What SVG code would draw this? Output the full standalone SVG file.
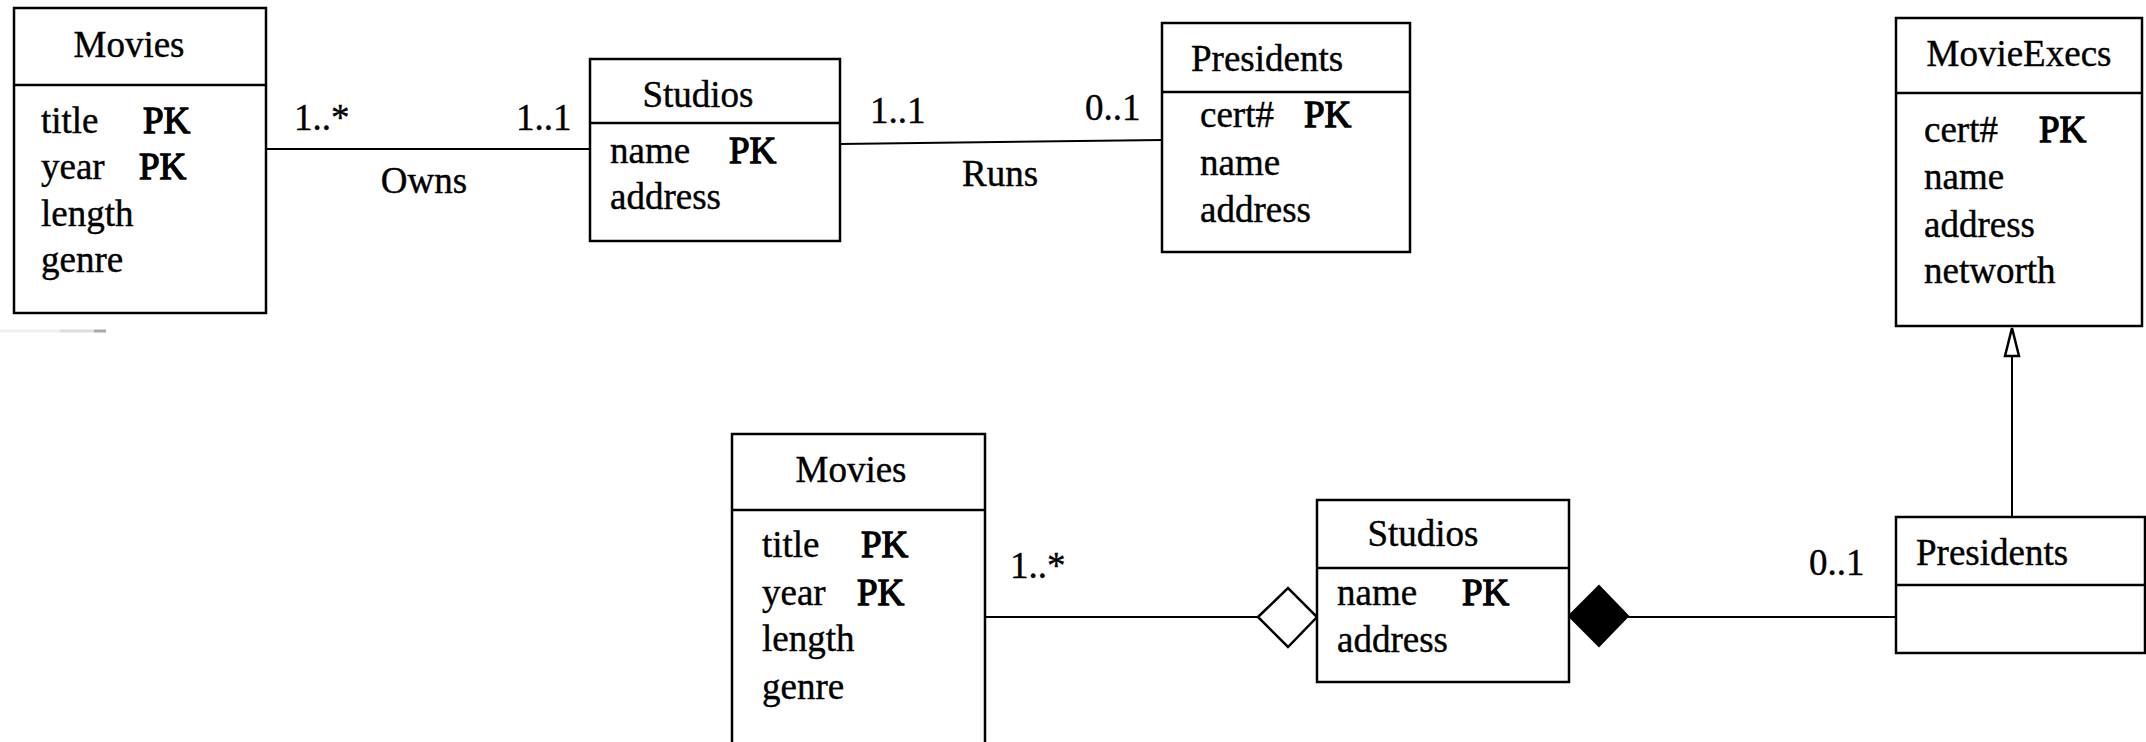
<svg xmlns="http://www.w3.org/2000/svg" width="2146" height="742" viewBox="0 0 2146 742">
<style>
.box{fill:#fff;stroke:#000;stroke-width:2.5}
.sep{stroke:#000;stroke-width:2.5}
.ln{stroke:#000;stroke-width:2;fill:none}
text{font-family:"Liberation Serif","Times New Roman",serif;font-size:37px;fill:#000;stroke:#000;stroke-width:0.4}
.c{text-anchor:middle}
.pk{stroke-width:1.3}
</style>
<rect width="2146" height="742" fill="#fff"/>
<g id="connectors">
<line class="ln" x1="266" y1="149" x2="590" y2="149"/>
<line class="ln" x1="840" y1="144" x2="1162" y2="140"/>
<line class="ln" x1="985" y1="617" x2="1258" y2="617"/>
<polygon points="1258,617 1288,588 1317,617 1288,647" fill="#fff" stroke="#000" stroke-width="2.5"/>
<line class="ln" x1="1628" y1="617" x2="1896" y2="617"/>
<polygon points="1569,616 1599,586 1628,616 1599,646" fill="#000" stroke="#000" stroke-width="2"/>
<line class="ln" x1="2012" y1="517" x2="2012" y2="356"/>
<polygon points="2012,328 2019,356 2005,356" fill="#fff" stroke="#000" stroke-width="2.5"/>
<text x="294" y="130">1..*</text>
<text x="516" y="130">1..1</text>
<text class="c" x="424" y="193">Owns</text>
<text x="870" y="123">1..1</text>
<text x="1085" y="120">0..1</text>
<text class="c" x="1000" y="186">Runs</text>
<text x="1010" y="578">1..*</text>
<text x="1809" y="575">0..1</text>
</g>
<g id="movies1">
<rect class="box" x="14" y="8" width="252" height="305"/>
<line class="sep" x1="14" y1="85" x2="266" y2="85"/>
<text class="c" x="129" y="57">Movies</text>
<text x="41" y="133">title</text><text class="pk" x="143" y="133">PK</text>
<text x="41" y="179">year</text><text class="pk" x="139" y="179">PK</text>
<text x="41" y="226">length</text>
<text x="41" y="272">genre</text>
</g>
<line x1="0" y1="331" x2="60" y2="331" stroke="#f0f0f0" stroke-width="3"/>
<line x1="60" y1="331" x2="94" y2="331" stroke="#ddd" stroke-width="3"/>
<line x1="94" y1="331" x2="106" y2="331" stroke="#aaa" stroke-width="3"/>
<g id="studios1">
<rect class="box" x="590" y="59" width="250" height="182"/>
<line class="sep" x1="590" y1="123" x2="840" y2="123"/>
<text class="c" x="698" y="107">Studios</text>
<text x="610" y="163">name</text><text class="pk" x="729" y="163">PK</text>
<text x="610" y="209">address</text>
</g>
<g id="presidents1">
<rect class="box" x="1162" y="23" width="248" height="229"/>
<line class="sep" x1="1162" y1="92" x2="1410" y2="92"/>
<text x="1191" y="71">Presidents</text>
<text x="1200" y="127">cert#</text><text class="pk" x="1304" y="127">PK</text>
<text x="1200" y="175">name</text>
<text x="1200" y="222">address</text>
</g>
<g id="movieexecs">
<rect class="box" x="1896" y="18" width="246" height="308"/>
<line class="sep" x1="1896" y1="93" x2="2142" y2="93"/>
<text class="c" x="2019" y="66">MovieExecs</text>
<text x="1924" y="142">cert#</text><text class="pk" x="2039" y="142">PK</text>
<text x="1924" y="189">name</text>
<text x="1924" y="237">address</text>
<text x="1924" y="283">networth</text>
</g>
<g id="presidents2">
<rect class="box" x="1896" y="517" width="249" height="136"/>
<line class="sep" x1="1896" y1="585" x2="2145" y2="585"/>
<text x="1916" y="565">Presidents</text>
</g>
<g id="movies2">
<rect class="box" x="732" y="434" width="253" height="320"/>
<line class="sep" x1="732" y1="510" x2="985" y2="510"/>
<text class="c" x="851" y="482">Movies</text>
<text x="762" y="557">title</text><text class="pk" x="861" y="557">PK</text>
<text x="762" y="605">year</text><text class="pk" x="857" y="605">PK</text>
<text x="762" y="651">length</text>
<text x="762" y="699">genre</text>
</g>
<g id="studios2">
<rect class="box" x="1317" y="500" width="252" height="182"/>
<line class="sep" x1="1317" y1="568" x2="1569" y2="568"/>
<text class="c" x="1423" y="546">Studios</text>
<text x="1337" y="605">name</text><text class="pk" x="1462" y="605">PK</text>
<text x="1337" y="652">address</text>
</g>
</svg>
